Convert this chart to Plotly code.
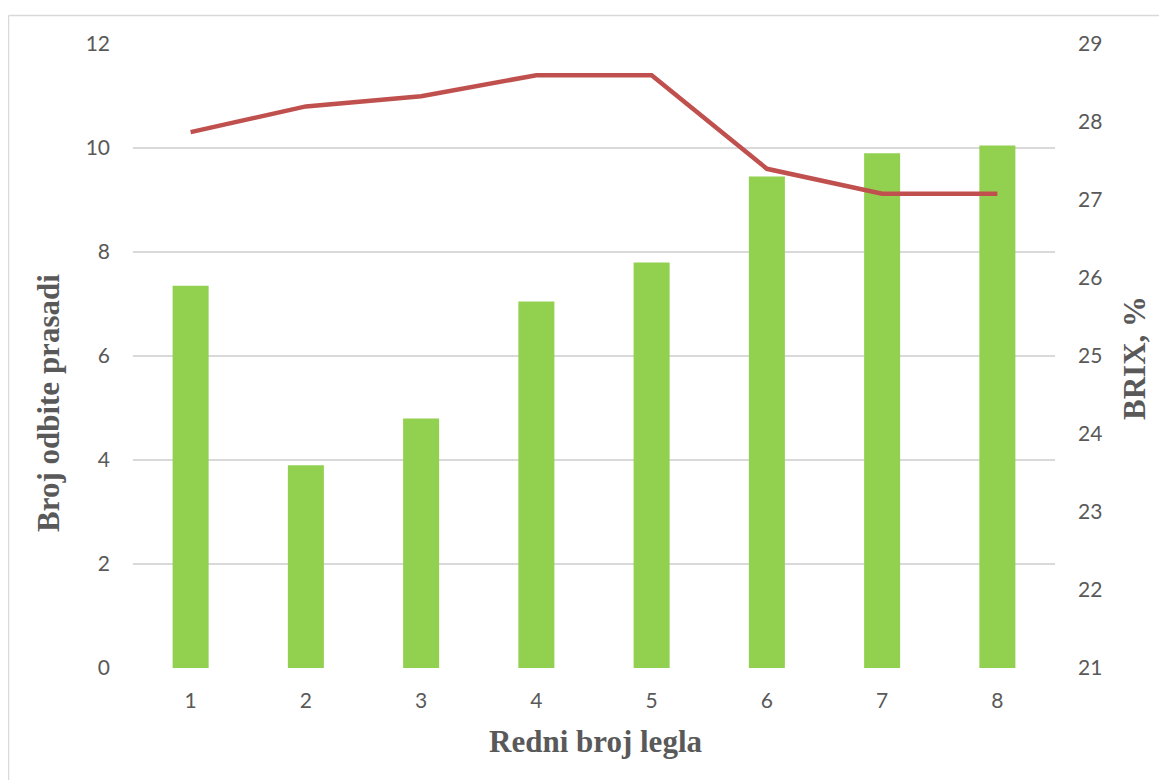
import plotly.graph_objects as go

categories = ["1", "2", "3", "4", "5", "6", "7", "8"]
piglets = [7.35, 3.9, 4.8, 7.05, 7.8, 9.45, 9.9, 10.05]
brix = [27.87, 28.2, 28.33, 28.6, 28.6, 27.4, 27.08, 27.08]

# page body has an 8px default margin; size the figure to compensate
OFF = 8
W, H = 1167 - OFF, 780 - OFF
L, T = 133 - OFF, 44 - OFF
R, B = 112, 112
pw, ph = W - L - R, H - T - B

def px(x):
    return (x - OFF - L) / pw

def py(y):
    return (H - B - (y - OFF)) / ph

gray = "#595959"
grid = "#D9D9D9"
tickfont = dict(family="Lato, Open Sans, sans-serif", size=21, color=gray)
titlefont = dict(family="Liberation Serif, Times New Roman, serif", size=31, color=gray)

fig = go.Figure()
fig.add_trace(go.Bar(x=categories, y=piglets, marker_color="#92D050",
                     marker_line_width=0, name="Broj odbite prasadi"))
fig.add_trace(go.Scatter(x=categories, y=brix, mode="lines", yaxis="y2",
                         line=dict(color="#C0504D", width=4.5), name="BRIX, %"))

fig.update_layout(
    width=W, height=H,
    margin=dict(l=L, r=R, t=T, b=B, pad=0),
    paper_bgcolor="white", plot_bgcolor="white",
    showlegend=False,
    bargap=0.6875,
    xaxis=dict(type="category", tickfont=tickfont, showgrid=False, zeroline=False,
               showline=False, ticks="", ticklabelstandoff=18),
    yaxis=dict(range=[0, 12], dtick=2, tickfont=tickfont, showgrid=True,
               gridcolor=grid, gridwidth=1.5, zeroline=False, showline=False,
               ticks="", ticklabelstandoff=22),
    yaxis2=dict(range=[21, 29], dtick=1, overlaying="y", side="right",
                tickfont=tickfont, showgrid=False, zeroline=False, showline=False,
                ticks="", ticklabelstandoff=22),
    annotations=[
        dict(text="<b>Redni broj legla</b>", xref="paper", yref="paper",
             x=px(595), y=py(741), showarrow=False, font=titlefont,
             xanchor="center", yanchor="middle"),
        dict(text="<b>Broj odbite prasadi</b>", xref="paper", yref="paper",
             x=px(48), y=py(403), showarrow=False, font=titlefont, textangle=-90,
             xanchor="center", yanchor="middle"),
        dict(text="<b>BRIX, %</b>", xref="paper", yref="paper",
             x=px(1134), y=py(358), showarrow=False, font=titlefont, textangle=-90,
             xanchor="center", yanchor="middle"),
    ],
    shapes=[
        dict(type="line", xref="paper", yref="paper", x0=px(8.5), x1=px(8.5),
             y0=py(15.5), y1=py(790), line=dict(color=grid, width=1.5)),
        dict(type="line", xref="paper", yref="paper", x0=px(8.5), x1=px(1175),
             y0=py(15.5), y1=py(15.5), line=dict(color=grid, width=1.5)),
    ],
)

fig.write_html("out.html")
